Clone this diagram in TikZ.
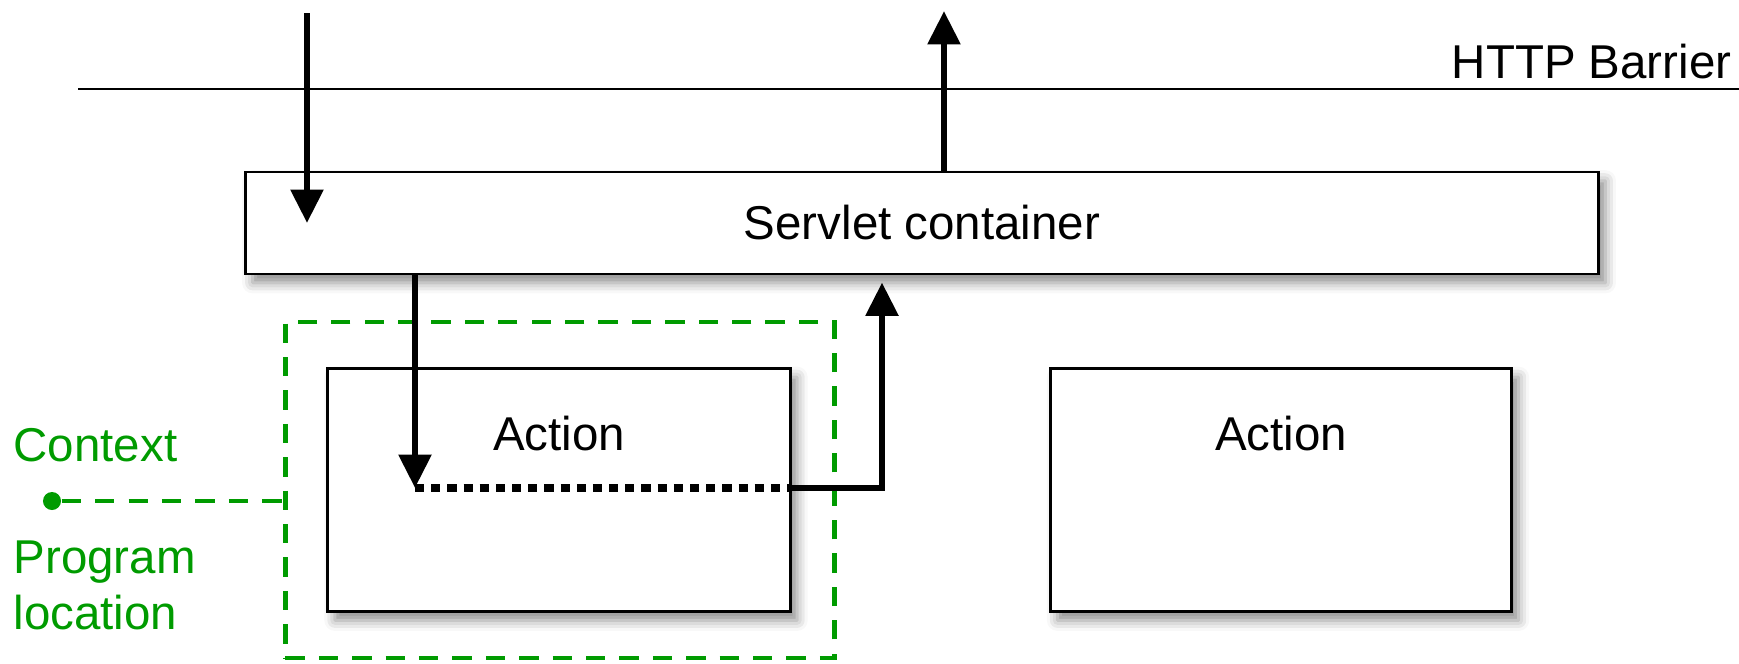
\documentclass[tikz,border=0pt]{standalone}
\usepackage{fontspec}
\setmainfont{Liberation Sans}
\usepackage{xcolor}
\usetikzlibrary{calc, positioning, arrows.meta, shadows.blur}
\definecolor{ctxgreen}{RGB}{0,155,0}

\begin{document}
\begin{tikzpicture}[x=0.01cm, y=-0.01cm, >={Triangle[length=9.5pt, width=9pt]},
    font=\fontsize{13.5}{16}\selectfont,
    hop/.style={draw, fill=white, line width=0.8pt,
        blur shadow={shadow xshift=2pt, shadow yshift=-2.5pt,
            shadow blur radius=3pt, shadow opacity=45}},
    luong/.style={->, line width=1.9pt},
    vung/.style={draw=ctxgreen, line width=1.3pt, dash pattern=on 5.5pt off 4pt},
    chu/.style={text=ctxgreen, inner sep=0pt}]
    \useasboundingbox (0,0) rectangle (1739,663);

    % 1. Vẽ đường ranh giới HTTP
    \coordinate (barL) at (78,89);
    \coordinate (barR) at (1739,89);
    \draw[line width=0.7pt] (barL) -- (barR);
    \node[anchor=base east, inner sep=0pt] (http) at (1732,78) {HTTP Barrier};

    % 2. Hộp servlet và hai hộp Action
    \node[hop, minimum width=13.52cm, minimum height=1.02cm] (servlet) at (922,223) {Servlet container};
    \node[hop, minimum width=4.62cm, minimum height=2.43cm] (act1) at (559,490) {};
    \node[hop, minimum width=4.61cm, minimum height=2.43cm] (act2) at (1281,490) {};
    \node (lbl1) at ($(act1.north)+(0,66)$) {Action};
    \node (lbl2) at ($(act2.north)+(0,66)$) {Action};

    % 3. Vùng ngữ cảnh (nét đứt xanh)
    \node[vung, minimum width=5.49cm, minimum height=3.36cm] (ctx) at (560,490) {};
    \node[circle, fill=ctxgreen, inner sep=0pt, minimum size=0.18cm] (loc) at (52,501) {};
    \draw[vung] (loc) -- (loc -| ctx.west);
    \node[chu, anchor=north west] (ctxlbl) at (13,428) {Context};
    \node[chu, anchor=north west, align=left] (proglbl) at (13,540) {Program\\location};

    % 4. Các mũi tên
    \coordinate (req) at (307,13);
    \coordinate (resp) at (944,11);
    \coordinate (prog) at (415,488);
    \coordinate (back) at (882,488);
    \draw[luong] (req) -- (req |- servlet.center);
    \draw[luong] (resp |- servlet.north) -- (resp);
    \draw[luong] (prog |- servlet.south) -- (prog);
    \draw[line width=2.3pt, dash pattern=on 2.6pt off 2pt] (prog) -- (prog -| act1.east);
    \draw[luong, shorten >=2pt] (prog -| act1.east) -- (back) -- (back |- servlet.south);
\end{tikzpicture}
\end{document}
